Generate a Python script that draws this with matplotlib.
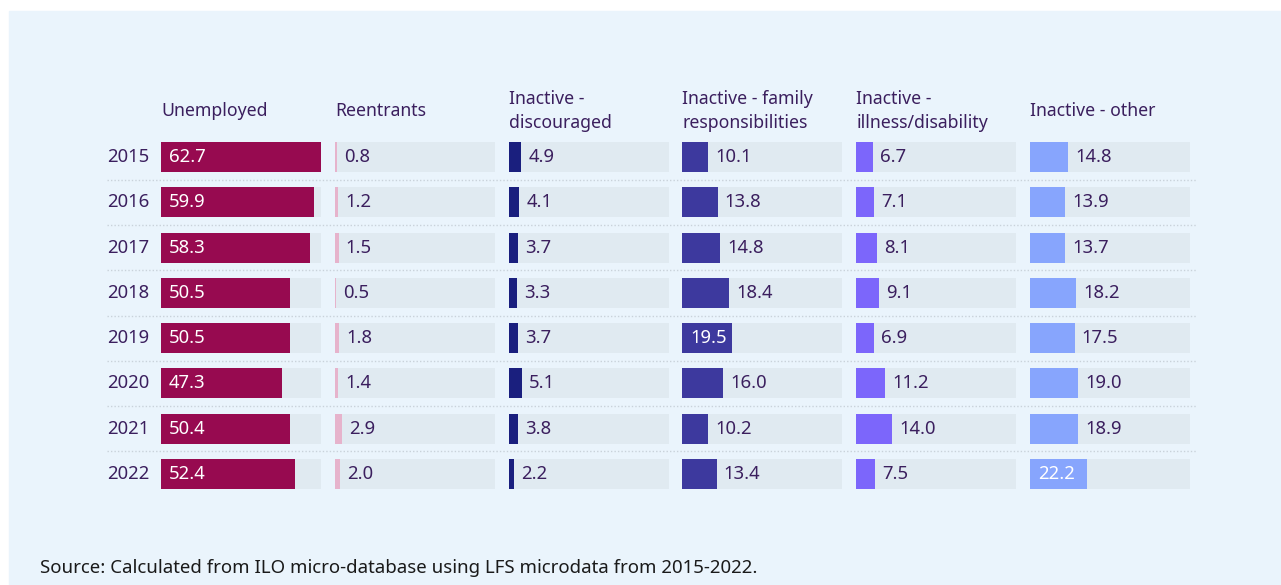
import matplotlib.pyplot as plt
from matplotlib.patches import Rectangle

plt.rcParams['font.family'] = ['Noto Sans', 'DejaVu Sans']

# data
years = ['2015', '2016', '2017', '2018', '2019', '2020', '2021', '2022']
headers = ['Unemployed', 'Reentrants', 'Inactive -\ndiscouraged',
           'Inactive - family\nresponsibilities', 'Inactive -\nillness/disability',
           'Inactive - other']
unemployed = [62.7, 59.9, 58.3, 50.5, 50.5, 47.3, 50.4, 52.4]
reentrants = [0.8, 1.2, 1.5, 0.5, 1.8, 1.4, 2.9, 2.0]
discouraged = [4.9, 4.1, 3.7, 3.3, 3.7, 5.1, 3.8, 2.2]
family = [10.1, 13.8, 14.8, 18.4, 19.5, 16.0, 10.2, 13.4]
illness = [6.7, 7.1, 8.1, 9.1, 6.9, 11.2, 14.0, 7.5]
other = [14.8, 13.9, 13.7, 18.2, 17.5, 19.0, 18.9, 22.2]

series = [unemployed, reentrants, discouraged, family, illness, other]
colors = ['#970A50', '#E6B3CC', '#1A1F7E', '#3D399E', '#7C66FB', '#87A5FD']
vmax = max(max(s) for s in series)

W, H = 1281, 585
text_col = '#3B1F5E'
track_col = '#E0EAF1'
fs = 13.3

fig = plt.figure(figsize=(W / 100, H / 100), dpi=100)
fig.patch.set_facecolor('white')
fig.add_artist(Rectangle((9 / W, 0), 1 - 9 / W, 1 - 11 / H,
                         transform=fig.transFigure, color='#EAF4FC', zorder=0))

n = len(years)
row_h = 45.3
top = 157 - row_h / 2
bot = 474 + row_h / 2

def fy(y):
    return 1 - y / H

# background axes for years and separators
bg = fig.add_axes([107 / W, fy(bot), (1196 - 107) / W, (bot - top) / H])
bg.set_xlim(0, 1)
bg.set_ylim(n - 0.5, -0.5)
bg.axis('off')
for i, yr in enumerate(years):
    bg.text(0, i, yr, va='center', ha='left', fontsize=fs, color=text_col)
for i in range(n - 1):
    bg.axhline(i + 0.5, color='#C9D2DA', lw=1.0, ls=(0, (1, 1.5)))

for c, (vals, col, head) in enumerate(zip(series, colors, headers)):
    x0 = 161 + c * 173.8
    ax = fig.add_axes([x0 / W, fy(bot), 160 / W, (bot - top) / H])
    ax.set_xlim(0, vmax)
    ax.set_ylim(n - 0.5, -0.5)
    ax.axis('off')
    ax.barh(range(n), [vmax] * n, height=0.66, color=track_col)
    ax.barh(range(n), vals, height=0.66, color=col)
    for i, v in enumerate(vals):
        if v >= 19.5:
            ax.text(vmax * 0.05, i, f'{v:.1f}', va='center', ha='left',
                    fontsize=fs, color='white')
        else:
            ax.text(v + vmax * 0.045, i, f'{v:.1f}', va='center', ha='left',
                    fontsize=fs, color=text_col)
    fig.text(x0 / W, fy(111), head, va='center', ha='left', fontsize=12.7,
             color=text_col, linespacing=1.45)

fig.text(40 / W, fy(568), 'Source: Calculated from ILO micro-database using LFS microdata from 2015-2022.',
         va='center', ha='left', fontsize=13.45, color='#1A1A1A')

fig.savefig('out.png', dpi=100)
